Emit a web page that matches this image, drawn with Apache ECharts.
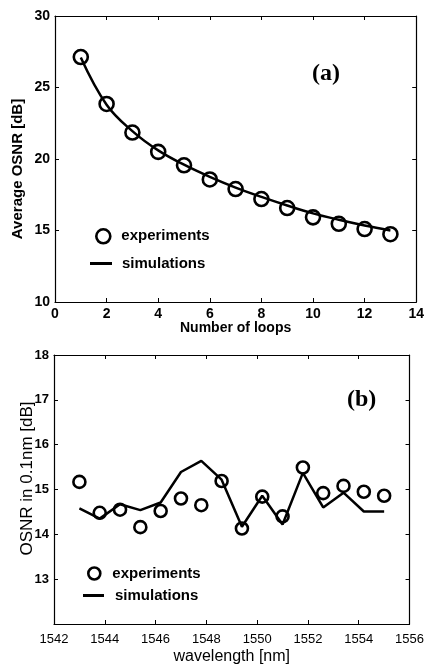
<!DOCTYPE html>
<html>
<head>
<meta charset="utf-8">
<script src="https://cdn.jsdelivr.net/npm/echarts@6/dist/echarts.min.js"></script>
<style>
  html, body { margin: 0; padding: 0; background: #fff; }
  #chart { width: 427px; height: 666px; }
</style>
</head>
<body>
<div id="chart"></div>
<script>
// (a) average OSNR vs number of loops
const loops = [1, 2, 3, 4, 5, 6, 7, 8, 9, 10, 11, 12, 13]
const loopsExp = [27.13, 23.85, 21.85, 20.5, 19.56, 18.57, 17.9, 17.2, 16.57, 15.92, 15.47, 15.1, 14.74]
const loopsSim = [27.1, 23.8, 21.95, 20.6, 19.6, 18.75, 18.0, 17.35, 16.75, 16.2, 15.75, 15.35, 15.0]

// (b) OSNR per channel vs wavelength
const wavelengths = [1543.0, 1543.8, 1544.6, 1545.4, 1546.2, 1547.0, 1547.8, 1548.6,
  1549.4, 1550.2, 1551.0, 1551.8, 1552.6, 1553.4, 1554.2, 1555.0]
const wlExp = [15.17, 14.48, 14.55, 14.16, 14.52, 14.8, 14.65, 15.19,
  14.13, 14.84, 14.4, 15.49, 14.92, 15.08, 14.95, 14.86]
const wlSim = [14.58, 14.35, 14.67, 14.54, 14.71, 15.39, 15.64, 15.22,
  14.17, 14.86, 14.22, 15.37, 14.6, 14.93, 14.51, 14.51]

const pairs = (xs, ys) => xs.map((x, i) => [x, ys[i]])

const sans = 'Liberation Sans'
const black = '#000'

// 轴的公共样式：黑框、内向刻度
function axis(extra) {
  return Object.assign({
    type: 'value',
    nameMoveOverlap: false,
    axisLine: { show: true, onZero: false, lineStyle: { color: black, width: 1.2 } },
    axisTick: { show: true, inside: true, length: 4, lineStyle: { color: black } },
    splitLine: { show: false },
    axisLabel: { color: black, fontFamily: sans, fontSize: 14, fontWeight: 'bold', margin: 5 },
    nameTextStyle: { color: black, fontFamily: sans, fontSize: 14, fontWeight: 'bold' }
  }, extra)
}
// 上/右侧镜像轴，只画刻度不画标签
function mirror(extra) {
  return axis(Object.assign({ axisLabel: { show: false } }, extra))
}

const expStyle = { color: 'transparent', borderColor: black, borderWidth: 2.6, opacity: 1 }
const simIcon = { color: black, borderWidth: 0, opacity: 1 }

function legend(name, left, top, w, h, icon, style, pad) {
  return {
    data: [{ name: name, icon: icon }],
    left: left, top: top, padding: 0, itemWidth: w, itemHeight: h,
    itemStyle: style,
    textStyle: { color: black, fontFamily: sans, fontSize: 15, fontWeight: 'bold', padding: [0, 0, 0, pad] },
    selectedMode: false
  }
}

const option = {
  animation: false,
  backgroundColor: '#fff',
  grid: [
    { left: 55, top: 16, right: 10, height: 286 },
    { left: 54, top: 355, right: 13, height: 273 }
  ],
  xAxis: [
    axis({ gridIndex: 0, min: 0, max: 14, interval: 2, name: 'Number of loops',
      nameLocation: 'middle', nameGap: 19 }),
    mirror({ gridIndex: 0, min: 0, max: 14, interval: 2, position: 'top' }),
    axis({ gridIndex: 1, min: 1542, max: 1556, interval: 2, name: 'wavelength [nm]',
      nameLocation: 'middle', nameGap: 25,
      axisLabel: { color: black, fontFamily: sans, fontSize: 13, margin: 9, formatter: v => String(v) },
      nameTextStyle: { color: black, fontFamily: sans, fontSize: 16 } }),
    mirror({ gridIndex: 1, min: 1542, max: 1556, interval: 2, position: 'top' })
  ],
  yAxis: [
    axis({ gridIndex: 0, min: 10, max: 30, interval: 5, name: 'Average OSNR [dB]',
      nameLocation: 'middle', nameGap: 30,
      nameTextStyle: { color: black, fontFamily: sans, fontSize: 15, fontWeight: 'bold', padding: [0, 20, 0, 0] } }),
    mirror({ gridIndex: 0, min: 10, max: 30, interval: 5, position: 'right' }),
    axis({ gridIndex: 1, min: 12, max: 18, interval: 1, name: 'OSNR in 0.1nm [dB]',
      nameLocation: 'middle', nameGap: 18,
      axisLabel: { color: black, fontFamily: sans, fontSize: 13, fontWeight: 'bold', margin: 5, showMinLabel: false },
      nameTextStyle: { color: black, fontFamily: sans, fontSize: 17, padding: [0, 0, 0, 22] } }),
    mirror({ gridIndex: 1, min: 12, max: 18, interval: 1, position: 'right' })
  ],
  legend: [
    legend('experiments', 95, 228, 14, 14, 'circle', expStyle, 6),
    legend('simulations', 90, 256, 22, 3, 'rect', simIcon, 5),
    legend('experiments ', 87, 566, 12, 12, 'circle', expStyle, 7),
    legend('simulations ', 83, 588, 21, 3, 'rect', simIcon, 6)
  ],
  graphic: [
    { type: 'text', left: 312, top: 62,
      style: { text: '(a)', font: 'bold 24px "Liberation Serif"', fill: black } },
    { type: 'text', left: 347, top: 388,
      style: { text: '(b)', font: 'bold 24px "Liberation Serif"', fill: black } }
  ],
  series: [
    { name: 'simulations', type: 'line', xAxisIndex: 0, yAxisIndex: 0,
      data: pairs(loops, loopsSim), smooth: 0.4, symbol: 'none',
      lineStyle: { color: black, width: 2.5 }, itemStyle: { color: black } },
    { name: 'experiments', type: 'scatter', xAxisIndex: 0, yAxisIndex: 0,
      data: pairs(loops, loopsExp), symbol: 'circle', symbolSize: 14, itemStyle: expStyle, z: 3 },
    { name: 'simulations ', type: 'line', xAxisIndex: 2, yAxisIndex: 2,
      data: pairs(wavelengths, wlSim), symbol: 'none',
      lineStyle: { color: black, width: 2.5 }, itemStyle: { color: black } },
    { name: 'experiments ', type: 'scatter', xAxisIndex: 2, yAxisIndex: 2,
      data: pairs(wavelengths, wlExp), symbol: 'circle', symbolSize: 12, itemStyle: expStyle, z: 3 }
  ]
}

const chart = echarts.init(document.getElementById('chart'))
chart.setOption(option)
</script>
</body>
</html>
